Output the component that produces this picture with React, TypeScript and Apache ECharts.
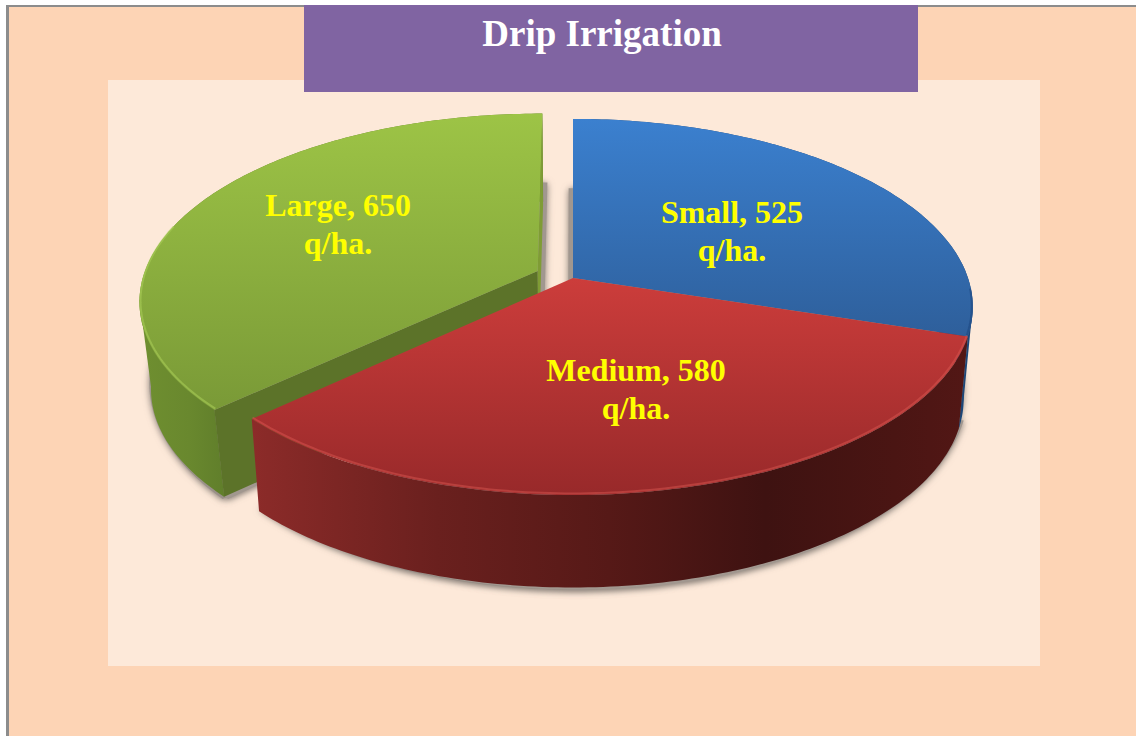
import React, { useEffect, useRef } from "react";
import * as echarts from "echarts";

// Yield per holding size, in q/ha.
const categories = ["Small", "Medium", "Large"];
const yields = [525, 580, 650];
const unit = "q/ha.";
const titleText = "Drip Irrigation";
// Radial pull of each slice, as a share of the radius.
const explode = [0, 0, 0.098];

const FONT = '"Liberation Serif", "Times New Roman", serif';
const CX = 573;
const PERSPECTIVE = 0.154;
const TOP_PLANE = { cy: 278, rx: 395, ry: 183.6 };
const BOTTOM_PLANE = { cy: 370, rx: 386, ry: 184 };
const SHADOW_PLANE = { cy: 358, rx: 386, ry: 196 };
// The floor of a pulled slice sits a little further back than its lid.
const PULLED_FLOOR_BACK = 0.025;
// Sideways drift of each slice's cast shadow.
const shadowDrift = [-0.013, 0.012, 0.013];

const labelAnchors = [
  [732, 231],
  [636, 389],
  [338, 224],
];

const grad = (x0: number, y0: number, x1: number, y1: number, stops: [number, string][]) =>
  new echarts.graphic.LinearGradient(
    x0, y0, x1, y1,
    stops.map(([offset, color]) => ({ offset, color })),
    true
  );

const looks = [
  {
    z: 20,
    top: grad(0, 119, 0, 336, [[0, "#3b80cf"], [1, "#2e5f9b"]]),
    rim: "rgba(28,70,125,0.55)",
    wall: "#1d4677",
  },
  {
    z: 30,
    top: grad(0, 278, 0, 495, [[0, "#cc3d3b"], [1, "#98292a"]]),
    rim: "rgba(222,90,85,0.45)",
    wall: grad(252, 0, 965, 0, [
      [0, "#8c2b29"],
      [0.26, "#6a201e"],
      [0.5, "#561917"],
      [0.72, "#3e1211"],
      [0.9, "#4a1513"],
      [1, "#521715"],
    ]),
  },
  {
    z: 10,
    top: grad(0, 113, 0, 408, [[0, "#9dc446"], [1, "#7a9a37"]]),
    rim: "rgba(172,208,90,0.55)",
    wall: grad(140, 0, 222, 0, [[0, "#6f8f30"], [0.6, "#69882e"], [1, "#617f2b"]]),
  },
];

const total = yields.reduce((a, b) => a + b, 0);

function project(u: number, v: number, plane: { cy: number; rx: number; ry: number }) {
  const w = 1 + PERSPECTIVE * v;
  return [CX + (plane.rx * u) / w, plane.cy - (plane.ry * v) / w];
}

function rim(a0: number, a1: number, ou: number, ov: number, plane: any) {
  const pts: number[][] = [];
  const steps = Math.max(8, Math.ceil((a1 - a0) * 60));
  for (let i = 0; i <= steps; i++) {
    const t = a0 + ((a1 - a0) * i) / steps;
    pts.push(project(Math.sin(t) + ou, Math.cos(t) + ov, plane));
  }
  return pts;
}

// Angles where the projected disc reaches its left and right extremes.
const TANGENTS = [Math.PI - Math.asin(Math.sqrt(1 - PERSPECTIVE ** 2)), Math.PI + Math.asin(Math.sqrt(1 - PERSPECTIVE ** 2))];

function renderSlice(_: any, api: any) {
  const i = api.value(0);
  let start = 0;
  for (let k = 0; k < i; k++) start += (yields[k] / total) * Math.PI * 2;
  const end = start + (api.value(1) / total) * Math.PI * 2;
  const mid = (start + end) / 2;
  const ou = Math.sin(mid) * explode[i];
  const ov = Math.cos(mid) * explode[i];
  const floorV = ov + (explode[i] > 0 ? PULLED_FLOOR_BACK : 0);
  const look = looks[i];

  const topAt = (t: number) => project(Math.sin(t) + ou, Math.cos(t) + ov, TOP_PLANE);
  const botAt = (t: number) => project(Math.sin(t) + ou, Math.cos(t) + floorV, BOTTOM_PLANE);

  const topRim = rim(start, end, ou, ov, TOP_PLANE);
  const botRim = rim(start, end, ou, floorV, BOTTOM_PLANE);
  const topApex = project(ou, ov, TOP_PLANE);
  const botApex = project(ou, floorV, BOTTOM_PLANE);

  // Bevel highlight: only the near part of the outer edge catches it.
  const lowerRim = rim(
    Math.max(start, Math.PI * 0.52),
    Math.min(end, Math.PI * 1.58),
    ou,
    ov,
    { ...TOP_PLANE, cy: TOP_PLANE.cy - 1, rx: TOP_PLANE.rx - 1, ry: TOP_PLANE.ry - 0.5 }
  );

  const poly = (points: number[][], style: any, z2: number) => ({
    type: "polygon",
    shape: { points },
    style,
    z2,
    silent: true,
  });

  const castShadow = (drift: number) =>
    poly(
      [project(ou + drift, ov, SHADOW_PLANE), ...rim(start, end, ou + drift, ov, SHADOW_PLANE)],
      { fill: "#a1978f", shadowBlur: 7, shadowColor: "#8d837c", shadowOffsetY: 1 },
      1
    );

  // Where the slice spans a side extreme, the wall's outline runs straight from lid to floor.
  const silhouettes = TANGENTS.filter((t) => t > start && t < end).map((t) => {
    const edge = Math.abs(start - Math.PI) < Math.abs(end - Math.PI) ? start : end;
    return poly([topAt(t), botAt(t), botAt(edge), topAt(edge)], { fill: look.wall }, look.z);
  });

  const n = topRim.length - 1;
  // Cut faces only show on a slice pulled away from the others.
  const cutFaces =
    explode[i] > 0
      ? [
          poly([topApex, topAt(start), botAt(start), botApex], { fill: "#5c7329" }, look.z + 1),
          poly(
            [topApex, topAt(end), project(Math.sin(end) + ou, Math.cos(end) + ov, BOTTOM_PLANE), project(ou, ov, BOTTOM_PLANE)],
            { fill: "#7f9c35" },
            look.z + 1
          ),
        ]
      : [];

  return {
    type: "group",
    children: [
      castShadow(0),
      castShadow(shadowDrift[i]),
      poly([...topRim, ...botRim.slice().reverse()], { fill: look.wall }, look.z),
      ...silhouettes,
      ...cutFaces,
      poly([topApex, ...topRim], { fill: look.top }, look.z + 2),
      {
        type: "polyline",
        shape: { points: lowerRim },
        style: { fill: "none", stroke: look.rim, lineWidth: 2 },
        z2: look.z + 3,
        silent: true,
      },
      {
        type: "text",
        style: {
          x: labelAnchors[i][0],
          y: labelAnchors[i][1],
          text: `${categories[i]}, ${api.value(1)}\n${unit}`,
          fill: "#ffff00",
          font: `bold 32px ${FONT}`,
          lineHeight: 38,
          align: "center",
          verticalAlign: "middle",
        },
        z2: 50,
        silent: true,
      },
    ],
  };
}

export default function App() {
  const ref = useRef<HTMLDivElement>(null);

  useEffect(() => {
    const chart = echarts.init(ref.current!, null, { renderer: "svg" });
    chart.setOption({
      animation: false,
      backgroundColor: "#ffffff",
      title: {
        text: titleText,
        left: 597,
        top: 10,
        textAlign: "center",
        textStyle: { color: "#ffffff", fontFamily: FONT, fontWeight: "bold", fontSize: 37 },
        z: 10,
      },
      graphic: [
        { type: "rect", silent: true, z: -10, shape: { x: 6, y: 5, width: 1130, height: 731 }, style: { fill: "#8c8c8c" } },
        { type: "rect", silent: true, z: -9, shape: { x: 9, y: 7, width: 1127, height: 729 }, style: { fill: "#fdd4b5" } },
        { type: "rect", silent: true, z: -8, shape: { x: 108, y: 80, width: 932, height: 586 }, style: { fill: "#fde9d9" } },
        { type: "rect", silent: true, z: -7, shape: { x: 304, y: 5, width: 614, height: 87 }, style: { fill: "#8064a2" } },
      ],
      series: [
        {
          type: "custom",
          coordinateSystem: "none",
          renderItem: renderSlice,
          data: yields.map((v, i) => [i, v]),
          silent: true,
          clip: false,
        },
      ],
    });
    return () => chart.dispose();
  }, []);

  return (
    <div
      ref={ref}
      style={{ position: "fixed", left: 0, top: 0, width: 1136, height: 736 }}
    />
  );
}
